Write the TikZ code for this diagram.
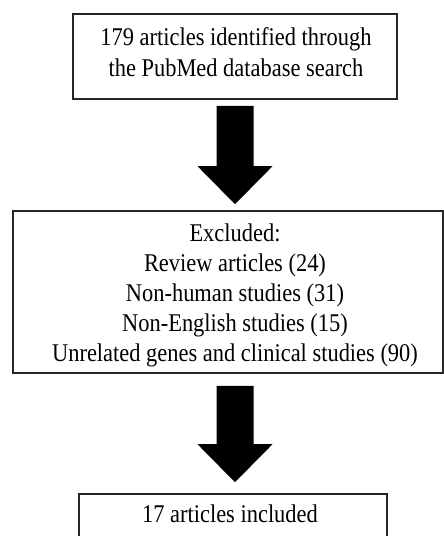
\documentclass[tikz,border=0pt]{standalone}
\usepackage{fontspec}
\setmainfont{Liberation Serif}[FakeStretch=0.88]
\usetikzlibrary{calc}
\tikzset{
  box/.style={draw=black!85, line width=1.6pt, fill=none, inner sep=0pt, rectangle},
  txt/.style={align=center, inner sep=0pt, font=\fontsize{25.5}{30.25}\selectfont, text=black},
  blockarrow/.style={fill=black, draw=none}
}
\begin{document}
\begin{tikzpicture}[x=1pt,y=1pt]
\useasboundingbox (0,0) rectangle (444,-536);
\clip (0,0) rectangle (444,-536);
\fill[white] (0,0) rectangle (444,-536);
% boxes
\node[box, minimum width=324pt, minimum height=85pt] (box1) at (235,-56.5) {};
\node[box, minimum width=430pt, minimum height=162pt] (box2) at (228,-292) {};
\node[box, minimum width=308pt, minimum height=66pt] (box3) at (233,-527) {};
% texts
\node[txt, font=\fontsize{25.5}{31}\selectfont] (t1) at (236,-52) {179 articles identified through\\the PubMed database search};
\node[txt] (t2) at (235,-295.4) {Excluded:\\Review articles (24)\\Non-human studies (31)\\Non-English studies (15)\\Unrelated genes and clinical studies (90)};
\node[txt] (t3) at (230,-513.5) {17 articles included};
% block arrows
\fill[blockarrow] let \p1=(box1.south), \p2=(box2.north) in
  (\x1-18.5pt,\y1-6pt) -- (\x1+18.5pt,\y1-6pt) -- (\x1+18.5pt,\y2+44pt) --
  (\x1+37.5pt,\y2+44pt) -- (\x1,\y2+6pt) -- (\x1-37.5pt,\y2+44pt) --
  (\x1-18.5pt,\y2+44pt) -- cycle;
\fill[blockarrow] let \p1=(box2.south), \p2=(box3.north), \p3=(box1.south) in
  (\x3-18.5pt,\y1-12pt) -- (\x3+18.5pt,\y1-12pt) -- (\x3+18.5pt,\y2+49pt) --
  (\x3+37.5pt,\y2+49pt) -- (\x3,\y2+11pt) -- (\x3-37.5pt,\y2+49pt) --
  (\x3-18.5pt,\y2+49pt) -- cycle;
\end{tikzpicture}
\end{document}
